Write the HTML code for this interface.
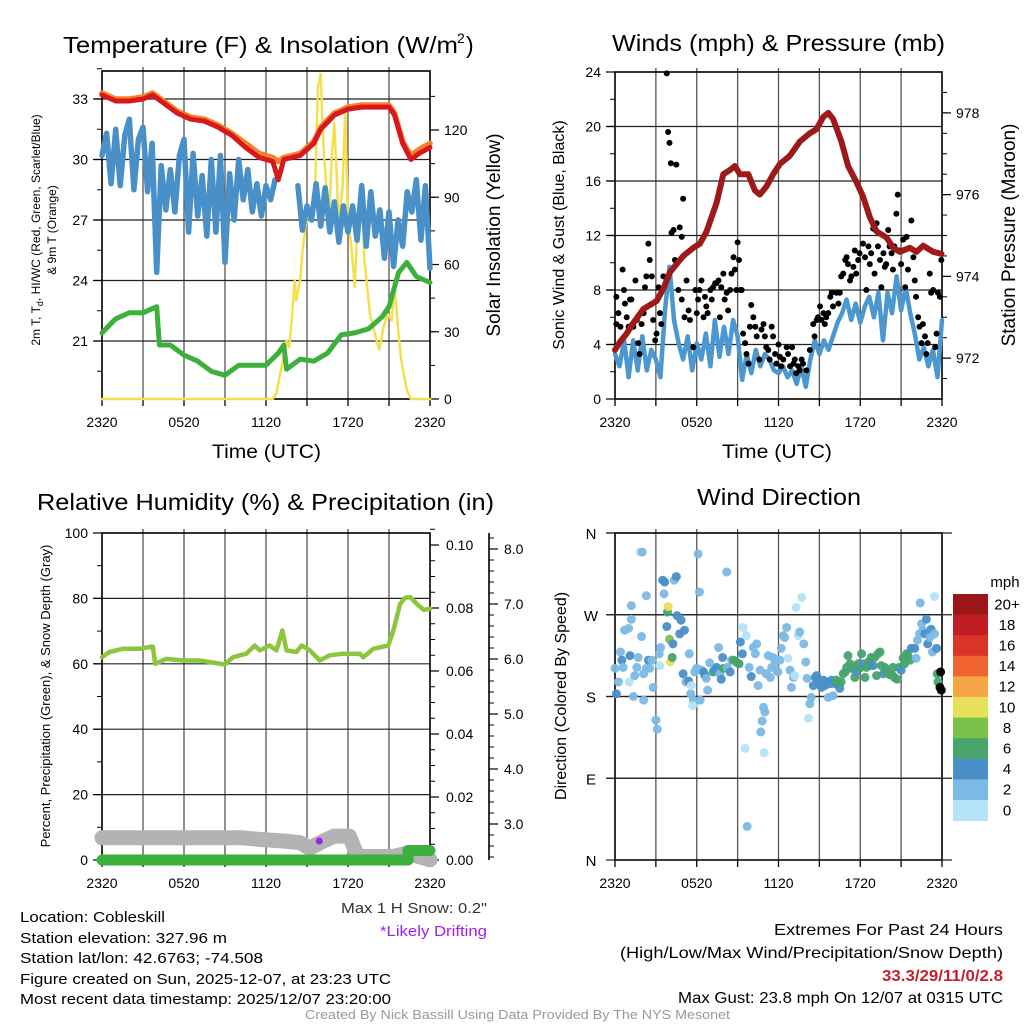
<!DOCTYPE html>
<html><head><meta charset="utf-8"><style>
html,body{margin:0;padding:0;background:#fff}
svg{display:block;font-family:"Liberation Sans",Arial,sans-serif}
</style></head><body>
<svg id="c" width="1024" height="1024" viewBox="0 0 1024 1024" xmlns="http://www.w3.org/2000/svg">
<g id="g1"></g>
<g id="g2"></g>
<g id="g3"></g>
<g id="g4"></g>
<g id="txt">
<text x="63" y="53" font-size="23" textLength="395" lengthAdjust="spacingAndGlyphs">Temperature (F) &amp; Insolation (W/m</text>
<text x="457" y="43" font-size="14">2</text>
<text x="466" y="53" font-size="23">)</text>
<text x="612" y="51" font-size="23" textLength="333" lengthAdjust="spacingAndGlyphs">Winds (mph) &amp; Pressure (mb)</text>
<text x="37" y="510" font-size="23" textLength="457" lengthAdjust="spacingAndGlyphs">Relative Humidity (%) &amp; Precipitation (in)</text>
<text x="697" y="505" font-size="23" textLength="164" lengthAdjust="spacingAndGlyphs">Wind Direction</text>
<text x="212" y="458" font-size="19" textLength="109" lengthAdjust="spacingAndGlyphs">Time (UTC)</text>
<text x="722" y="458" font-size="19" textLength="110" lengthAdjust="spacingAndGlyphs">Time (UTC)</text>
<g font-size="12" text-anchor="middle">
<text transform="translate(40,230) rotate(-90)">2m T, T<tspan font-size="9" dy="3">d</tspan><tspan dy="-3">, HI/WC (Red, Green, Scarlet/Blue)</tspan></text>
<text transform="translate(56,230) rotate(-90)">&amp; 9m T (Orange)</text>
</g>
<text transform="translate(500,235) rotate(-90)" font-size="19" text-anchor="middle">Solar Insolation (Yellow)</text>
<text transform="translate(564,235) rotate(-90)" font-size="16" text-anchor="middle">Sonic Wind &amp; Gust (Blue, Black)</text>
<text transform="translate(1015,235) rotate(-90)" font-size="19" text-anchor="middle">Station Pressure (Maroon)</text>
<text transform="translate(50,696) rotate(-90)" font-size="13" text-anchor="middle">Percent, Precipitation (Green), &amp; Snow Depth (Gray)</text>
<text transform="translate(566,696) rotate(-90)" font-size="16" text-anchor="middle">Direction (Colored By Speed)</text>
<g font-size="15">
<text x="20" y="922" textLength="145" lengthAdjust="spacingAndGlyphs">Location: Cobleskill</text>
<text x="20" y="943" textLength="207" lengthAdjust="spacingAndGlyphs">Station elevation: 327.96 m</text>
<text x="20" y="963" textLength="243" lengthAdjust="spacingAndGlyphs">Station lat/lon: 42.6763; -74.508</text>
<text x="20" y="984" textLength="371" lengthAdjust="spacingAndGlyphs">Figure created on Sun, 2025-12-07, at 23:23 UTC</text>
<text x="20" y="1004" textLength="371" lengthAdjust="spacingAndGlyphs">Most recent data timestamp: 2025/12/07 23:20:00</text>
</g>
<text x="341" y="913" font-size="15" fill="#333" textLength="146" lengthAdjust="spacingAndGlyphs">Max 1 H Snow: 0.2"</text>
<text x="380" y="936" font-size="15" fill="#a020f0" textLength="107" lengthAdjust="spacingAndGlyphs">*Likely Drifting</text>
<g font-size="16">
<text x="774" y="935" textLength="229" lengthAdjust="spacingAndGlyphs">Extremes For Past 24 Hours</text>
<text x="620" y="958" textLength="383" lengthAdjust="spacingAndGlyphs">(High/Low/Max Wind/Precipitation/Snow Depth)</text>
<text x="882" y="981" font-weight="bold" fill="#c8202a" textLength="121" lengthAdjust="spacingAndGlyphs">33.3/29/11/0/2.8</text>
<text x="678" y="1003" textLength="325" lengthAdjust="spacingAndGlyphs">Max Gust: 23.8 mph On 12/07 at 0315 UTC</text>
</g>
<text x="305" y="1019" font-size="12.5" fill="#999" textLength="425" lengthAdjust="spacingAndGlyphs">Created By Nick Bassill Using Data Provided By The NYS Mesonet</text>
</g>
</svg>
<script>
// ---------- DATA ----------
const xTickLabels = ["2320","0520","1120","1720","2320"];
const tempH = [0,1,2,3,3.7,4.5,5.5,6.5,7.5,8.5,9.5,10.5,11.5,12.5,12.9,13.3,14.5,15.5,16,17,18,19,20,21,21.4,22,22.6,23.2,24];
const tempV = [33.2,32.9,32.9,33.0,33.2,32.8,32.3,32.0,31.9,31.6,31.2,30.6,30.1,29.9,29.0,30.0,30.2,30.8,31.5,32.2,32.5,32.6,32.6,32.6,32.2,30.8,30.0,30.3,30.6];
const temp9mV = [33.3,33.0,33.0,33.1,33.3,32.9,32.4,32.1,32.0,31.7,31.3,30.8,30.3,30.1,29.9,30.1,30.3,30.9,31.6,32.3,32.6,32.7,32.7,32.7,32.3,30.9,30.2,30.5,30.8];
const hiwcV = [30.2,31.3,28.8,31.5,28.7,31.2,32.0,28.5,31.0,31.6,28.4,30.8,24.4,29.7,27.5,29.5,27.4,30.2,31.0,26.4,30.3,27.2,29.2,26.2,30.0,26.4,30.2,24.9,29.3,27.0,30.0,28.0,29.5,27.4,28.8,27.2,28.7,28.0,29.0,null,null,null,null,28.7,26.5,27.7,27.0,28.8,26.7,28.6,26.4,27.9,25.9,27.7,26.4,27.7,26.0,28.7,25.7,28.4,26.2,27.5,25.1,27.4,24.7,27.0,25.7,28.4,27.4,29.0,26.0,28.7,24.6];
const dewH = [0,1,2,3,4,4.2,5,6,7,8,9,10,11,12,12.9,13.3,13.5,14.5,15.5,16.5,17.5,18.5,19.5,20.5,21,21.7,22.3,23,24];
const dewV = [21.4,22.1,22.4,22.4,22.7,20.8,20.8,20.3,20.0,19.5,19.3,19.8,19.8,19.8,20.4,20.8,19.6,20.1,20.0,20.4,21.3,21.4,21.6,22.2,22.7,24.4,24.9,24.2,23.9];
const solarH = [0,12.5,12.75,13.1,13.5,13.7,13.9,14.1,14.2,14.5,14.7,15.1,15.3,15.6,15.8,16.0,16.2,16.4,16.6,16.8,17.0,17.2,17.3,17.4,17.6,17.8,18.0,18.2,18.5,18.7,19.0,19.2,19.6,20.1,20.3,20.6,20.9,21.2,21.4,21.7,21.9,22.3,22.6,24];
const solarV = [0,0,2.5,13,26,23,37,53,44,53,68,86,80,96,139,145,113,96,77,107,123,96,77,84,94,130,77,71,50,80,96,62,38,26,22,32,38,35,50,29,17,4,0,0];

const presH = [0,0.37,0.86,1.22,2.08,3.06,3.55,4.03,5.01,5.75,6.23,6.72,7.46,7.95,8.44,8.8,9.17,9.78,10.27,10.63,11.12,11.61,12.1,12.83,13.57,14.3,14.79,15.28,15.65,16.01,16.62,17.11,17.73,18.21,18.7,19.19,19.93,20.42,20.9,21.64,22.13,22.62,23.35,23.96];
const presV = [972.2,972.4,972.6,972.8,973.2,973.4,973.7,974.1,974.5,974.7,974.8,975.1,975.8,976.5,976.6,976.7,976.5,976.5,976.1,976.0,976.2,976.5,976.75,976.95,977.3,977.5,977.6,977.9,978.0,977.85,977.3,976.7,976.3,975.95,975.45,975.1,974.95,974.7,974.6,974.7,974.6,974.75,974.6,974.55];
const windV = [3.3,2.4,4.3,1.6,4.3,2.1,4.6,2.1,3.6,2.9,1.6,6.5,9.7,5.8,4.1,2.9,4.6,2.1,4.1,2.9,4.8,2.4,5.8,3.1,5.3,3.3,5.8,4.6,1.4,3.3,1.9,3.6,2.4,3.3,2.9,2.1,1.9,2.4,1.6,2.1,1.1,2.4,0.9,2.9,4.3,3.3,4.3,3.6,4.6,5.6,6.3,7.3,5.8,7.0,5.6,6.8,7.5,6.0,7.8,4.3,7.8,6.3,9.0,6.5,8.2,6.3,4.8,2.9,3.8,2.4,3.6,1.6,5.8];
const gustH = [0.1,0.1,0.25,0.4,0.56,0.66,0.73,0.86,1,1.1,1.2,1.35,1.5,1.6,1.7,1.8,1.95,2.1,2.2,2.3,2.45,2.55,2.7,2.8,2.95,3.05,3.2,3.3,3.4,3.55,3.8,3.9,4.0,4.1,4.5,4.15,4.3,4.4,4.65,4.75,4.9,5.0,5.25,4.9,5.1,5.4,5.5,5.75,5.9,6.0,6.1,6.2,6.35,6.5,6.6,6.7,6.8,7.0,7.1,7.2,7.35,7.45,7.6,7.7,7.8,7.95,8.05,8.2,8.3,8.45,8.55,8.7,8.8,8.9,9.0,9.1,9.2,9.3,9.4,9.55,9.65,9.8,9.9,10.0,10.15,10.3,10.4,10.6,10.75,10.9,11.0,11.1,11.25,11.35,11.5,11.6,11.75,11.85,12.0,12.1,12.2,12.35,12.6,12.7,12.85,13.0,13.1,13.2,13.3,13.45,13.55,13.7,13.8,14.05,14.3,14.55,14.65,14.8,14.9,15.05,15.15,15.3,15.4,15.5,15.65,15.8,15.9,16.0,16.25,16.4,16.5,16.6,16.75,16.9,17.0,17.1,17.25,17.35,17.5,17.6,17.7,17.85,17.95,18.2,18.35,18.45,18.6,18.7,18.8,18.95,19.05,19.2,19.3,19.45,19.55,19.7,19.8,19.9,20.05,20.15,20.3,20.4,20.5,20.65,20.75,20.9,21.0,21.15,21.3,21.4,21.5,21.75,21.9,22.0,22.1,22.25,22.35,22.5,22.6,22.75,22.85,22.95,23.1,23.2,23.35,23.5,23.6,23.7,23.85,23.95];
const gustV = [7.5,5.5,6.3,5.3,9.5,8.0,7.0,6.0,5.3,7.3,7.3,5.3,8.7,5.8,4.1,3.3,5.5,6.3,8.2,9.0,11.4,10.2,9.0,5.8,4.3,4.8,8.2,6.3,5.5,9.0,23.9,19.6,18.8,17.3,17.2,12.2,12.4,10.2,8.0,12.6,11.9,14.7,8.7,7.3,6.0,6.5,5.8,3.8,8.0,6.3,7.3,8.0,8.7,6.0,7.5,6.8,6.3,8.0,7.3,8.2,8.5,8.5,8.7,6.0,8.2,9.2,7.3,7.8,6.5,8.0,9.2,10.4,9.5,8.0,11.5,10.2,8.0,8.0,4.8,4.1,3.3,2.6,5.3,6.9,6.0,5.3,4.6,2.9,5.1,5.5,4.6,3.8,3.6,2.9,5.3,4.6,3.3,2.6,4.0,3.1,2.4,2.9,3.8,3.3,2.4,3.8,2.6,2.9,1.9,2.4,2.1,2.9,2.6,2.1,3.6,5.5,4.6,5.8,6.0,6.8,5.8,6.3,5.5,6.0,6.3,7.5,7.8,6.8,7.8,7.0,7.8,9.0,9.2,10.2,10.4,9.9,8.7,9.0,9.7,10.9,9.2,10.2,10.7,11.4,10.4,8.0,11.2,9.9,10.7,12.5,9.2,12.9,11.2,10.2,8.2,10.7,9.7,9.9,12.4,11.2,10.7,9.5,11.2,13.6,15.0,10.9,9.9,11.7,8.2,11.9,9.5,13.1,10.4,8.7,7.5,6.0,5.3,4.1,5.5,4.6,3.3,4.1,9.2,7.8,8.0,3.8,4.8,7.8,7.5,10.2];

const rhH = [0,0.54,1.52,2.74,3.72,3.89,4.69,5.92,7.14,8.36,8.97,9.58,10.56,11.17,11.54,12.27,12.76,13.2,13.5,14.23,14.6,15.21,15.94,16.67,17.65,18.87,19.12,19.85,20.95,21.32,21.81,22.18,22.55,23.04,23.53,24];
const rhV = [62.0,63.6,64.6,64.6,65.3,60.0,61.5,61.0,61.0,60.2,59.8,62.0,63.1,65.6,64.1,65.6,64.1,70.2,64.1,63.6,65.6,64.1,61.0,62.6,63.1,63.1,62.0,64.6,65.6,70.2,78.3,80.2,80.4,78.3,76.5,76.8];
const snowH = [0,10.3,11.5,13.3,14.5,15.2,16.2,17.0,18.1,18.7,21.3,22.3,24];
const snowV = [2.75,2.75,2.72,2.69,2.66,2.56,2.69,2.78,2.78,2.41,2.41,2.47,2.35];
const precipH = [0,22.4,22.4,24];
const precipV = [0,0,0.003,0.003];
const driftH = [15.9];
const driftV = [2.69];

const dirH = [0,0.1,0.25,0.4,0.5,0.6,0.7,1.0,1.1,1.2,1.2,1.05,1.35,1.45,1.6,1.7,1.85,1.95,2.0,2.1,2.1,2.3,2.3,2.45,2.55,2.7,2.8,3.0,3.1,3.25,3.35,3.3,3.5,3.6,3.65,3.8,3.85,3.9,4.0,4.05,4.2,4.25,4.35,4.5,4.55,4.75,4.85,5.0,5.1,5.2,5.4,5.45,5.55,5.6,5.75,5.7,5.85,6.0,6.1,6.2,6.25,6.35,6.5,6.6,6.7,6.8,6.95,7.2,7.3,7.45,7.6,7.7,7.8,7.9,7.95,8.2,8.25,8.45,8.55,8.7,8.9,9.1,9.2,9.35,9.4,9.55,9.65,9.7,9.85,10.0,10.15,10.3,10.4,10.5,10.65,10.8,10.7,10.9,10.95,11.0,11.1,11.25,11.4,11.5,11.6,11.75,11.85,11.95,12.1,12.2,12.35,12.45,12.6,12.7,12.85,12.95,13.1,13.2,13.3,13.45,13.55,13.7,13.85,14.0,14.1,14.2,14.3,14.4,14.55,14.7,14.8,14.9,15.05,15.15,15.3,15.4,15.5,15.65,15.75,15.9,16.0,16.15,16.25,16.4,16.5,16.6,16.75,16.9,17.0,17.1,17.25,17.35,17.5,17.6,17.7,17.85,17.95,18.1,18.2,18.35,18.45,18.6,18.7,18.8,18.95,19.05,19.2,19.3,19.45,19.55,19.7,19.8,19.95,20.15,20.3,20.4,20.5,20.7,20.85,21.0,21.15,21.25,21.4,21.5,21.65,21.75,22.0,22.1,22.2,22.35,22.4,22.5,22.6,22.75,22.85,22.95,23.1,23.2,23.3,23.45,23.45,23.6,23.65,23.7,23.85,23.9,23.95];
const dirV = [211,183,196,229,220,212,253,255,225,280,265,196,180,203,212,223,339,246,339,205,176,211,291,220,211,220,190,154,144,227,234,214,308,293,306,257,273,279,243,218,223,238,308,312,269,249,264,205,253,196,197,227,183,192,176,170,207,211,337,295,176,209,207,203,200,187,217,207,209,212,234,205,199,223,211,317,212,207,220,220,218,216,240,227,256,123,247,37,212,202,234,227,238,192,209,153,141,168,118,163,205,225,201,212,223,218,209,207,220,233,247,245,256,222,209,190,201,203,278,247,251,289,238,218,200,156,172,179,192,201,203,196,194,190,198,192,196,179,194,198,181,194,198,194,189,196,205,207,212,225,216,211,212,201,207,216,211,227,216,201,212,218,214,223,214,223,203,227,229,214,205,212,207,204,205,212,201,199,212,209,222,216,227,225,220,233,233,222,242,249,283,260,253,249,265,238,245,254,229,290,249,233,205,196,190,207,187];
const dirSpd = [3,4,2,2,4,3,2,2,4,2,2,1,2,2,2,2,1,2,2,3,2,3,2,4,3,3,2,2,2,2,2,1,4,2,4,4,6,10,8,10,7,4,2,4,4,4,4,4,4,2,4,2,2,1,2,1,2,3,2,2,2,2,4,4,3,2,3,6,5,4,3,3,4,4,6,2,3,4,3,6,6,6,4,4,1,1,1,3,2,4,2,2,2,2,2,2,2,2,1,2,2,2,2,2,2,2,2,2,2,2,2,2,2,1,2,2,2,1,1,1,2,1,2,2,2,1,2,2,4,4,4,4,4,4,4,4,4,2,4,4,2,4,6,6,4,6,6,6,6,6,6,6,6,6,4,6,6,6,4,6,6,7,6,7,4,6,7,7,7,6,4,6,7,6,6,7,7,6,6,4,6,7,7,6,6,4,4,2,2,2,2,2,2,4,4,4,2,4,2,1,2,4,6,6];
const speedBins = ["0","2","4","6","8","10","12","14","16","18","20+"];
const speedColors = ["#b5e3f7","#7cb9e4","#4a8fc8","#47a46b","#7cc24a","#e6e05a","#f6a646","#f0622f","#dc3328","#c11d25","#9a1619"];

// ---------- HELPERS ----------
const NS="http://www.w3.org/2000/svg";
function mk(parent,tag,attrs){const e=document.createElementNS(NS,tag);for(const k in attrs)e.setAttribute(k,attrs[k]);parent.appendChild(e);return e;}
function scale(d0,d1,r0,r1){return v=>r0+(v-d0)*(r1-r0)/(d1-d0);}
function pathD(xs,ys,sx,sy){let d="",pen=false;for(let i=0;i<xs.length;i++){if(ys[i]===null){pen=false;continue;}d+=(pen?"L":"M")+sx(xs[i]).toFixed(1)+" "+sy(ys[i]).toFixed(1);pen=true;}return d;}
function idx(n){return Array.from({length:n},(_,i)=>i*24/(n-1));}

function frame(g,L,T,R,B,hGridVals,sy){
  const sx=scale(0,24,L,R);
  for(let h=3;h<24;h+=3){
    const ln=mk(g,"line",{x1:sx(h),y1:T-4,x2:sx(h),y2:B,stroke:"#555","stroke-width":1.3});
    
    
  }
  hGridVals.forEach(v=>{
    const ln=mk(g,"line",{x1:L-8,y1:sy(v),x2:R,y2:sy(v),stroke:"#222","stroke-width":1.2});
    
    
  });
  const fr=mk(g,"rect",{x:L,y:T,width:R-L,height:B-T,fill:"none",stroke:"#000","stroke-width":1.6});
  
  
  for(let h=0;h<=24;h+=3){
    const t=mk(g,"line",{x1:sx(h),y1:B,x2:sx(h),y2:B+7,stroke:"#000","stroke-width":1.3});
    
    
  }
  xTickLabels.forEach((lab,i)=>{
    const t=mk(g,"text",{x:sx(i*6),y:B+28,"font-size":14,"text-anchor":"middle"});
    t.textContent=lab;
    
    
  });
  return sx;
}
function yAxis(g,x,sy,majors,minors,labels,side,fs,dx){
  const dir=side==="left"?-1:1;
  minors.forEach(v=>{const t=mk(g,"line",{x1:x,y1:sy(v),x2:x+dir*5,y2:sy(v),stroke:"#000","stroke-width":1});
    });
  majors.forEach((v,i)=>{const t=mk(g,"line",{x1:x,y1:sy(v),x2:x+dir*9,y2:sy(v),stroke:"#000","stroke-width":1.2});
    
    const tx=mk(g,"text",{x:x+dir*(dx||14),y:sy(v)+5,"font-size":fs||14,"text-anchor":side==="left"?"end":"start"});
    tx.textContent=labels[i];
    });
}
function line(g,d,color,w,name){const p=mk(g,"path",{d:d,fill:"none",stroke:color,"stroke-width":w,"stroke-linejoin":"round","stroke-linecap":"round"});
  return p;}
function range(a,b,s){const r=[];for(let v=a;v<=b+1e-9;v+=s)r.push(+v.toFixed(4));return r;}

// ---------- PANEL 1 ----------
(function(){
  const g=document.getElementById("g1");
  const L=102,T=71,R=430,B=399;
  const sy=scale(33,21,99,341);
  const sr=scale(0,120,399,130);
  const sx=frame(g,L,T,R,B,[21,24,27,30,33],sy);
  yAxis(g,L,sy,[21,24,27,30,33],range(19.5,34.5,1.5),["21","24","27","30","33"],"left",14,14);
  yAxis(g,R,sr,[0,30,60,90,120],range(15,135,15),["0","30","60","90","120"],"right",14,14);
  line(g,pathD(solarH,solarV,sx,sr),"#f5df4d",2.5,"solar-insolation-line");
  line(g,pathD(dewH,dewV,sx,sy),"#3daf3d",5,"dewpoint-line");
  line(g,pathD(idx(hiwcV.length),hiwcV,sx,sy),"#4a90c8",5.5,"heat-index-wind-chill-line");
  line(g,pathD(tempH,temp9mV,sx,sy),"#f4822a",5.5,"temp-9m-line");
  line(g,pathD(tempH,tempV,sx,sy),"#d7191c",5,"temp-2m-line");
})();

// ---------- PANEL 2 ----------
(function(){
  const g=document.getElementById("g2");
  const L=615,T=72,R=942,B=399;
  const sy=scale(0,24,399,72);
  const sp=scale(971,979,399,72);
  const sx=frame(g,L,T,R,B,[4,8,12,16,20],sy);
  yAxis(g,L,sy,[0,4,8,12,16,20,24],range(2,22,4),["0","4","8","12","16","20","24"],"left",14,14);
  yAxis(g,R,sp,[972,974,976,978],range(971.5,978.5,0.5),["972","974","976","978"],"right",14,14);
  line(g,pathD(idx(windV.length),windV,sx,sy),"#4d97d1",4.5,"sonic-wind-line");
  for(let i=0;i<gustH.length;i++){
    const c=mk(g,"circle",{cx:sx(gustH[i]),cy:sy(gustV[i]),r:3,fill:"#000"});
    
    
  }
  line(g,pathD(presH,presV,sx,sp),"#9e1a1a",6,"pressure-line");
})();

// ---------- PANEL 3 ----------
(function(){
  const g=document.getElementById("g3");
  const L=102,T=533,R=430,B=860;
  const sy=scale(0,100,860,533);
  const sp=scale(0,0.1,860,545);
  const ss=scale(3,8,824,549);
  const sx=frame(g,L,T,R,B,[20,40,60,80],sy);
  yAxis(g,L,sy,[0,20,40,60,80,100],range(10,90,20),["0","20","40","60","80","100"],"left",14,14);
  yAxis(g,R,sp,[0,0.02,0.04,0.06,0.08,0.1],range(0.005,0.105,0.005),["0.00","0.02","0.04","0.06","0.08","0.10"],"right",14,16);
  const ax=mk(g,"line",{x1:489,y1:533,x2:489,y2:860,stroke:"#000","stroke-width":1.6});
  
  
  yAxis(g,489,ss,[3,4,5,6,7,8],range(2.4,8.2,0.2),["3.0","4.0","5.0","6.0","7.0","8.0"],"right",14,15);
  line(g,pathD(rhH,rhV,sx,sy),"#8cc63f",4.5,"relative-humidity-line");
  line(g,pathD(snowH,snowV,sx,ss),"#b3b3b3",15,"snow-depth-line");
  line(g,pathD(precipH,precipV,sx,sp),"#3daf3d",11,"precipitation-line");
  for(let i=0;i<driftH.length;i++){
    const c=mk(g,"circle",{cx:sx(driftH[i]),cy:ss(driftV[i]),r:3.5,fill:"#a020f0"});
    
    
  }
})();

// ---------- PANEL 4 ----------
(function(){
  const g=document.getElementById("g4");
  const L=615,T=533,R=942,B=860;
  const sy=scale(0,360,860,533);
  const sx=frame(g,L,T,R,B,[90,180,270,360],sy);
  const dl=["N","E","S","W","N"];
  [0,90,180,270,360].forEach((v,i)=>{
    const t=mk(g,"line",{x1:L-9,y1:sy(v),x2:R+10,y2:sy(v),stroke:"#222","stroke-width":1.2});
    
    
    const tx=mk(g,"text",{x:591,y:sy(v)+6,"font-size":15,"text-anchor":"middle"});
    tx.textContent=dl[i];
    
    
  });
  for(let i=0;i<dirH.length;i++){
    const b=Math.min(10,Math.floor(dirSpd[i]/2));
    const c=mk(g,"circle",{cx:sx(dirH[i]),cy:sy(dirV[i]),r:4.5,fill:speedColors[b],"fill-opacity":0.95});
    
    
  }
  const cb=mk(g,"g",{});
  
  
  const top=594,hh=20.6;
  for(let i=0;i<speedBins.length;i++){
    const k=speedBins.length-1-i;
    const r=mk(cb,"rect",{x:953,y:top+i*hh,width:35,height:hh+0.5,fill:speedColors[k]});
    
    
    const t=mk(cb,"text",{x:1007,y:top+i*hh+hh/2+5,"font-size":15,"text-anchor":"middle"});
    t.textContent=speedBins[k];
    
    
  }
  const m=mk(cb,"text",{x:1005,y:587,"font-size":15,"text-anchor":"middle"});
  m.textContent="mph";
  
  
})();
</script>
</body></html>
